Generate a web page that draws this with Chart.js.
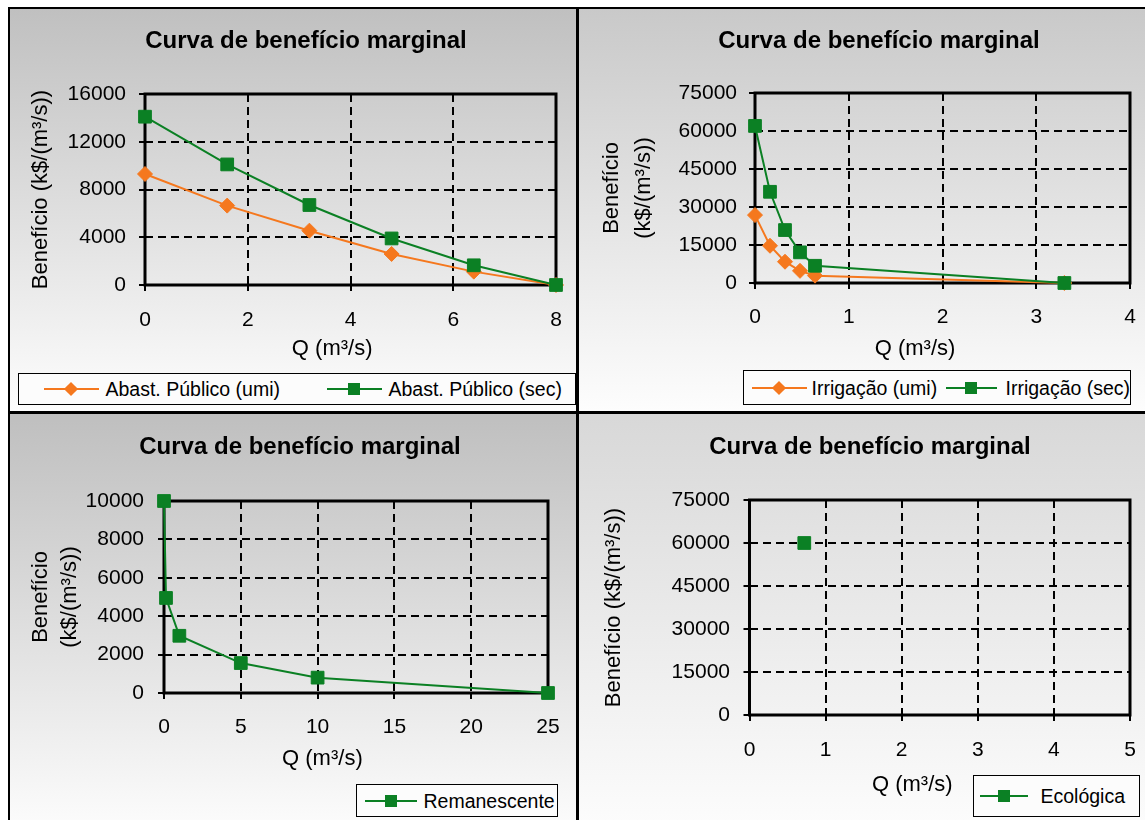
<!DOCTYPE html>
<html>
<head>
<meta charset="utf-8">
<script src="https://cdn.jsdelivr.net/npm/chart.js@4.4.1/dist/chart.umd.min.js"></script>
<style>
html, body { margin:0; padding:0; background:#fff; width:1145px; height:820px; overflow:hidden; position:relative;
  font-family: Arial, "Liberation Sans", Helvetica, sans-serif; }
.panel { position:absolute; }
.rule { position:absolute; background:#000; }
canvas { position:absolute; }
.lg { position:absolute; border:1.5px solid #000; background:#fcfcfc; box-sizing:border-box; }
.lg .ln { position:absolute; height:2px; top:50%; margin-top:-1px; }
.lg .mk { position:absolute; top:50%; }
.lg .tx { position:absolute; top:50%; transform:translateY(-50%); font-size:19.5px; white-space:nowrap; color:#000; }
</style>
</head>
<body>

<div class="panel" style="left:10px;top:9px;width:566px;height:402px;background:linear-gradient(#c0c0c0,#fdfdfd);"></div>
<div class="panel" style="left:579px;top:9px;width:566px;height:402px;background:linear-gradient(#c9c9c9,#fdfdfd);"></div>
<div class="panel" style="left:10px;top:414px;width:566px;height:420px;background:linear-gradient(#bfbfbf,#fdfdfd);"></div>
<div class="panel" style="left:579px;top:414px;width:566px;height:420px;background:linear-gradient(#d8d8d8,#fdfdfd);"></div>

<div class="rule" style="left:8px;top:7px;width:1137px;height:2px;"></div>
<div class="rule" style="left:8px;top:7px;width:2px;height:813px;"></div>
<div class="rule" style="left:576px;top:7px;width:3px;height:813px;"></div>
<div class="rule" style="left:8px;top:411px;width:1137px;height:3px;"></div>

<script>
/* ---------- DATA ---------- */
const abastQ   = [0, 1.6, 3.2, 4.8, 6.4, 8];
const abastUmi = [9300, 6650, 4550, 2600, 1120, 0];
const abastSec = [14100, 10100, 6700, 3900, 1650, 0];

const irrigQ   = [0, 0.16, 0.32, 0.48, 0.64, 3.3];
const irrigUmi = [26800, 14700, 8400, 4800, 2900, 0];
const irrigSec = [62000, 36000, 20900, 12100, 6800, 0];

const remanQ   = [0, 0.13, 1, 5, 10, 25];
const remanVal = [10000, 4950, 2980, 1560, 800, 0];

const ecoQ   = [0.72];
const ecoVal = [60000];

const xTicksAbast = [0, 2, 4, 6, 8];
const yTicksAbast = [0, 4000, 8000, 12000, 16000];
const xTicksIrrig = [0, 1, 2, 3, 4];
const yTicksIrrig = [0, 15000, 30000, 45000, 60000, 75000];
const xTicksReman = [0, 5, 10, 15, 20, 25];
const yTicksReman = [0, 2000, 4000, 6000, 8000, 10000];
const xTicksEco   = [0, 1, 2, 3, 4, 5];
const yTicksEco   = [0, 15000, 30000, 45000, 60000, 75000];

const chartTitle = "Curva de benefício marginal";
const xTitle = "Q (m³/s)";
const yTitleOne = "Benefício (k$/(m³/s))";
const yTitleTwo = ["Benefício", "(k$/(m³/s))"];

/* ---------- STYLE ---------- */
const FONT = 'Arial, "Liberation Sans", Helvetica, sans-serif';
const ORANGE = "#F5781E";
const GREEN = "#0B8024";
Chart.defaults.font.family = FONT;
Chart.defaults.color = "#000";

function pts(xs, ys){ return xs.map((x, i) => ({x: x, y: ys[i]})); }

function series(label, xs, ys, color, style, order){
  return {
    label: label, data: pts(xs, ys), showLine: true,
    borderColor: color, backgroundColor: color, borderWidth: 2, tension: 0,
    pointStyle: style, pointRadius: style === "rect" ? 9 : 7.5, pointHoverRadius: 9,
    pointBorderColor: color, pointBackgroundColor: color, pointBorderWidth: 1,
    clip: false, order: order
  };
}

// plot-area border (drawn under the markers, like the original)
const plotFrame = {
  id: "plotFrame",
  beforeDatasetsDraw(chart){
    const {ctx, chartArea: a} = chart;
    ctx.save();
    ctx.strokeStyle = "#000"; ctx.lineWidth = 3;
    ctx.strokeRect(a.left, a.top, a.right - a.left, a.bottom - a.top);
    ctx.restore();
  }
};

function fixTicks(arr){
  return s => { s.ticks = arr.map(v => ({value: v})); };
}

/* ---------- chart builder (positions in page px) ---------- */
function makeChart(spec, datasets){
  const cl = spec.left, ct = spec.top;
  const cw = Math.round(2 * (spec.titleX - cl));
  const ch = Math.round(spec.xTitleY + 20 - ct);
  const cv = document.createElement("canvas");
  cv.width = cw; cv.height = ch;
  cv.style.left = cl + "px"; cv.style.top = ct + "px";
  cv.style.width = cw + "px"; cv.style.height = ch + "px";
  document.body.appendChild(cv);

  const p = spec.plot;
  const lhT = 24 * 1.2;
  const tPadTop = spec.titleY - ct - lhT / 2;
  const tPadBot = p.T - ct - tPadTop - lhT;
  const wy = p.L - cl;
  const wr = cl + cw - p.R;
  const hx = ct + ch - p.B;
  const yLh = 22 * spec.yTitleLH;
  const yTitlePad = spec.yTitleX - cl - yLh / 2;
  const tickLh = 21 * 1.2;
  const xTickPad = spec.xTickY - p.B - 6 - tickLh / 2;
  const yTickPad = p.L - 6 - spec.yTickR;
  const xTitlePad = ct + ch - spec.xTitleY - 22 * 1.2 / 2;

  // the x title sits left of the plot centre in the original: pad it with trailing spaces
  const mctx = cv.getContext("2d");
  mctx.font = "22px " + FONT;
  const sw = mctx.measureText("\u00A0").width;
  const nsp = Math.max(0, Math.round(2 * ((p.L + p.R) / 2 - spec.xTitleX) / sw));
  const xTitleText = xTitle + "\u00A0".repeat(nsp);

  const grid = {color: "#000", lineWidth: 2, drawTicks: true, tickLength: 6, tickColor: "#000", tickWidth: 2};
  const border = {display: false, dash: [8, 5]};

  return new Chart(cv, {
    type: "scatter",
    data: {datasets: datasets},
    options: {
      responsive: false, animation: false, events: [],
      layout: {padding: 0},
      plugins: {
        legend: {display: false},
        tooltip: {enabled: false},
        title: {display: true, text: chartTitle, color: "#000",
          font: {size: 24, weight: "bold", lineHeight: 1.2},
          padding: {top: tPadTop, bottom: tPadBot}}
      },
      scales: {
        x: {
          type: "linear", position: "bottom",
          min: spec.xTicks[0], max: spec.xTicks[spec.xTicks.length - 1],
          afterBuildTicks: fixTicks(spec.xTicks),
          ticks: {font: {size: 21}, color: "#000", padding: xTickPad, maxRotation: 0, callback: v => String(v)},
          grid: grid, border: border,
          title: {display: true, text: xTitleText, color: "#000", font: {size: 22, lineHeight: 1.2}, padding: {top: 0, bottom: xTitlePad}},
          afterFit: s => { s.height = hx; s.paddingLeft = 0; s.paddingRight = 0; }
        },
        y: {
          type: "linear", position: "left",
          min: spec.yTicks[0], max: spec.yTicks[spec.yTicks.length - 1],
          afterBuildTicks: fixTicks(spec.yTicks),
          ticks: {font: {size: 21}, color: "#000", padding: yTickPad, callback: v => String(v)},
          grid: grid, border: border,
          title: {display: true, text: spec.yTitle, color: "#000", font: {size: 22, lineHeight: spec.yTitleLH}, padding: {top: yTitlePad, bottom: 0}},
          afterFit: s => { s.width = wy; s.paddingTop = 0; s.paddingBottom = 0; }
        },
        pad: {
          axis: "y", type: "linear", position: "right", display: true,
          grid: {display: false}, ticks: {display: false}, border: {display: false},
          afterFit: s => { s.width = wr; s.paddingTop = 0; s.paddingBottom = 0; }
        }
      }
    },
    plugins: [plotFrame]
  });
}

/* ---------- HTML legends ---------- */
function makeLegend(box, items){
  const d = document.createElement("div");
  d.className = "lg";
  d.style.left = box[0] + "px"; d.style.top = box[1] + "px";
  d.style.width = (box[2] - box[0]) + "px"; d.style.height = (box[3] - box[1]) + "px";
  const ox = box[0] + 1.5;
  items.forEach(it => {
    const ln = document.createElement("span");
    ln.className = "ln";
    ln.style.left = (it.line[0] - ox) + "px";
    ln.style.width = (it.line[1] - it.line[0]) + "px";
    ln.style.background = it.color;
    d.appendChild(ln);
    const mk = document.createElement("span");
    mk.className = "mk";
    const mc = (it.line[0] + it.line[1]) / 2 - ox;
    if (it.shape === "diamond"){
      mk.style.width = "10px"; mk.style.height = "10px";
      mk.style.left = (mc - 5) + "px"; mk.style.marginTop = "-5px";
      mk.style.transform = "rotate(45deg)";
    } else {
      mk.style.width = "12px"; mk.style.height = "12px";
      mk.style.left = (mc - 6) + "px"; mk.style.marginTop = "-6px";
    }
    mk.style.background = it.color;
    d.appendChild(mk);
    const tx = document.createElement("span");
    tx.className = "tx";
    tx.style.left = (it.text - ox) + "px";
    tx.textContent = it.label;
    d.appendChild(tx);
  });
  document.body.appendChild(d);
}

/* ---------- panels ---------- */
makeChart({
  left: 10, top: 9, titleX: 306, titleY: 41,
  plot: {L: 145, R: 556, T: 94, B: 285},
  yTitle: yTitleOne, yTitleLH: 1.2, yTitleX: 41, yTickR: 126,
  xTickY: 320, xTitleX: 333, xTitleY: 349,
  xTicks: xTicksAbast, yTicks: yTicksAbast
}, [
  series("Abast. Público (umi)", abastQ, abastUmi, ORANGE, "rectRot", 1),
  series("Abast. Público (sec)", abastQ, abastSec, GREEN, "rect", 0)
]);

makeChart({
  left: 581, top: 9, titleX: 879, titleY: 41,
  plot: {L: 755, R: 1130, T: 93, B: 283},
  yTitle: yTitleTwo, yTitleLH: 1.45, yTitleX: 612, yTickR: 737,
  xTickY: 317, xTitleX: 914, xTitleY: 349,
  xTicks: xTicksIrrig, yTicks: yTicksIrrig
}, [
  series("Irrigação (umi)", irrigQ, irrigUmi, ORANGE, "rectRot", 1),
  series("Irrigação (sec)", irrigQ, irrigSec, GREEN, "rect", 0)
]);

makeChart({
  left: 10, top: 414, titleX: 300, titleY: 447,
  plot: {L: 164, R: 548, T: 501, B: 693},
  yTitle: yTitleTwo, yTitleLH: 1.36, yTitleX: 40.5, yTickR: 144,
  xTickY: 727, xTitleX: 321, xTitleY: 759,
  xTicks: xTicksReman, yTicks: yTicksReman
}, [
  series("Remanescente", remanQ, remanVal, GREEN, "rect", 0)
]);

makeChart({
  left: 581, top: 414, titleX: 870, titleY: 447,
  plot: {L: 749.5, R: 1130, T: 500, B: 715},
  yTitle: yTitleOne, yTitleLH: 1.2, yTitleX: 614, yTickR: 730,
  xTickY: 750, xTitleX: 911, xTitleY: 785,
  xTicks: xTicksEco, yTicks: yTicksEco
}, [
  series("Ecológica", ecoQ, ecoVal, GREEN, "rect", 0)
]);

makeLegend([18, 373, 576, 405], [
  {label: "Abast. Público (umi)", color: ORANGE, shape: "diamond", line: [44, 99], text: 106},
  {label: "Abast. Público (sec)", color: GREEN, shape: "square", line: [327, 382], text: 389}
]);
makeLegend([743, 370, 1131, 405], [
  {label: "Irrigação (umi)", color: ORANGE, shape: "diamond", line: [752, 807], text: 812},
  {label: "Irrigação (sec)", color: GREEN, shape: "square", line: [946, 997], text: 1006}
]);
makeLegend([356, 784, 558, 817], [
  {label: "Remanescente", color: GREEN, shape: "square", line: [365, 417], text: 424}
]);
makeLegend([973, 775, 1140, 817], [
  {label: "Ecológica", color: GREEN, shape: "square", line: [980, 1028], text: 1041}
]);
</script>
</body>
</html>
